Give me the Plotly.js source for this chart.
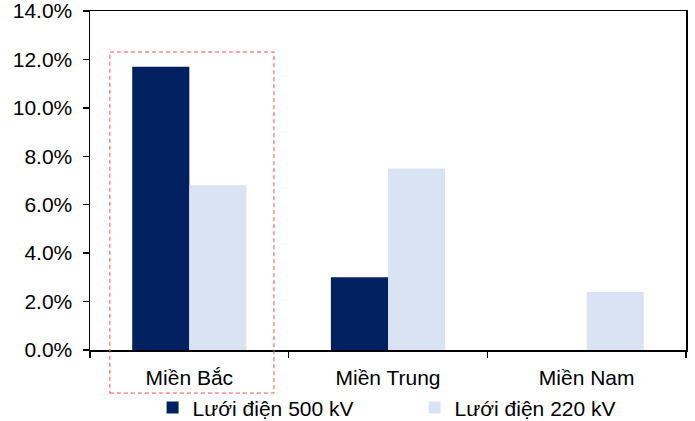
<!DOCTYPE html>
<html>
<head>
<meta charset="utf-8">
<script src="https://cdn.plot.ly/plotly-3.0.1.min.js"></script>
<style>html,body{margin:0;padding:0;background:#fff}#chart{width:695px;height:421px}</style>
</head>
<body>
<div id="chart"></div>
<script>
const categories = ["Miền Bắc", "Miền Trung", "Miền Nam"];
const seriesNames = ["Lưới điện 500 kV", "Lưới điện 220 kV"];
const values500 = [11.7, 3.0, 0.0];
const values220 = [6.8, 7.5, 2.4];
const tickValues = [0, 2, 4, 6, 8, 10, 12, 14];

const font = {family: "Liberation Sans, Arial, sans-serif", size: 21, color: "#000"};

const traces = [
  {type: "bar", x: categories, y: values500, name: seriesNames[0], marker: {color: "#002060"}},
  {type: "bar", x: categories, y: values220, name: seriesNames[1], marker: {color: "#dae3f3"}}
];

const layout = {
  width: 695, height: 421,
  margin: {l: 90, r: 9, t: 11, b: 71, autoexpand: false},
  paper_bgcolor: "#fff", plot_bgcolor: "#fff",
  font: font,
  barmode: "group",
  bargap: 0.425,
  bargroupgap: 0,
  showlegend: true,
  legend: {
    orientation: "h", x: 0.105, xanchor: "left", y: -0.171, yanchor: "middle",
    font: font, entrywidth: 217, itemwidth: 30, traceorder: "normal",
    bgcolor: "rgba(0,0,0,0)"
  },
  xaxis: {
    type: "category",
    showline: true, linecolor: "#000", linewidth: 1.5, mirror: true,
    ticks: "outside", tickson: "boundaries", ticklen: 6, tickcolor: "#000", tickwidth: 1.5,
    showgrid: false, zeroline: false, tickfont: font, ticklabelstandoff: 8
  },
  yaxis: {
    range: [0, 14],
    tickvals: tickValues,
    ticktext: tickValues.map(v => v.toFixed(1) + "%"),
    showline: true, linecolor: "#000", linewidth: 1.5, mirror: true,
    ticks: "outside", ticklen: 6, tickcolor: "#000", tickwidth: 1.5,
    showgrid: false, zeroline: false, tickfont: font, ticklabelstandoff: 6,
    ticklabeloverflow: "allow"
  },
  shapes: [{
    type: "rect", xref: "x", yref: "paper",
    x0: -0.40, x1: 0.426, y0: -0.127, y1: 0.879,
    line: {color: "#f05050", width: 1, dash: "4px,3px"}, fillcolor: "rgba(0,0,0,0)"
  }]
};

Plotly.newPlot("chart", traces, layout, {displayModeBar: false, staticPlot: true});
</script>
</body>
</html>
